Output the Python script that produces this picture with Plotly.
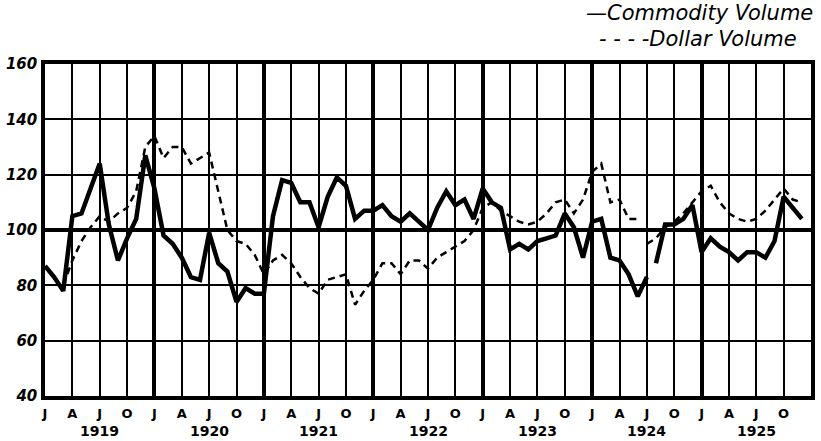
import plotly.graph_objects as go

# Monthly index values, January 1919 through December 1925
years = [1919, 1920, 1921, 1922, 1923, 1924, 1925]
quarter_letters = ["J", "A", "J", "O"]
y_ticks = [40, 60, 80, 100, 120, 140, 160]

commodity_volume = [
    87, 83, 78, 105, 106, 115, 124, 102, 89, 97, 104, 127,    # 1919
    115, 98, 95, 90, 83, 82, 99, 88, 85, 74, 79, 77,          # 1920
    77, 105, 118, 117, 110, 110, 101, 112, 119, 116, 104, 107,  # 1921
    107, 109, 105, 103, 106, 103, 100, 108, 114, 109, 111, 104,  # 1922
    115, 110, 108, 93, 95, 93, 96, 97, 98, 106, 101, 90,      # 1923
    103, 104, 90, 89, 84, 76, 83, 88, 102, 102, 104, 109,     # 1924
    92, 97, 94, 92, 89, 92, 92, 90, 96, 112, 108, 104,        # 1925
]

dollar_volume = [
    None, None, 80, 89, 96, 101, 105, 103, 106, 108, 114, 130,  # 1919
    134, 126, 130, 130, 124, 126, 128, 114, 100, 96, 95, 91,    # 1920
    84, 89, 91, 88, 83, 79, 77, 82, 83, 84, 73, 78,            # 1921
    82, 88, 88, 84, 89, 89, 86, 90, 92, 94, 96, 100,           # 1922
    108, 110, 107, 105, 103, 102, 103, 106, 110, 111, 106, 111,  # 1923
    121, 124, 110, 111, 104, 104, 95, 97, 101, 103, 106, 110,   # 1924
    114, 116, 110, 106, 104, 103, 104, 107, 111, 115, 111, 110,  # 1925
]

# month after which each series has a break in the drawn line
commodity_break = 66
dollar_break = 65

months = list(range(len(commodity_volume)))


def with_break(xs, ys, after):
    """Insert a gap into a series right after the given month."""
    bx, by = [], []
    for x, y in zip(xs, ys):
        bx.append(x)
        by.append(y)
        if x == after:
            bx.append(x + 0.5)
            by.append(None)
    return bx, by


cx, cy = with_break(months, commodity_volume, commodity_break)
dx, dy = with_break(months, dollar_volume, dollar_break)

n_quarters = len(years) * 4
quarter_vals = [3 * i for i in range(n_quarters)]
quarter_text = [quarter_letters[i % 4] for i in range(n_quarters)]
year_vals = [12 * i for i in range(1, len(years))]

fig = go.Figure()
fig.add_trace(go.Scatter(
    x=cx, y=cy, mode="lines", name="Commodity Volume",
    line=dict(color="black", width=4.5), connectgaps=False,
))
fig.add_trace(go.Scatter(
    x=dx, y=dy, mode="lines", name="Dollar Volume",
    line=dict(color="black", width=2.5, dash="7px,5px"), connectgaps=False,
))

axis_common = dict(
    showline=True, linecolor="black", linewidth=3.5, mirror=True,
    showgrid=True, gridcolor="black", gridwidth=2, zeroline=False, ticks="",
)

fig.update_layout(
    width=821, height=441,
    margin=dict(l=43, r=6, t=64, b=45),
    paper_bgcolor="white", plot_bgcolor="white",
    showlegend=False,
    xaxis=dict(
        range=[0, 12 * len(years)], tickmode="array",
        tickvals=quarter_vals, ticktext=quarter_text,
        tickfont=dict(family="DejaVu Sans", size=13, color="black", weight="bold"),
        ticklabelstandoff=3,
        **axis_common,
    ),
    yaxis=dict(
        range=[y_ticks[0], y_ticks[-1]], tickmode="array", tickvals=y_ticks,
        tickfont=dict(family="DejaVu Sans", size=15, color="black",
                      weight="bold", style="italic"),
        ticklabelstandoff=1,
        **axis_common,
    ),
    # heavier rules at each new year and at the 100 base line
    xaxis2=dict(
        overlaying="x", range=[0, 12 * len(years)], tickmode="array",
        tickvals=year_vals, showticklabels=False, showgrid=True,
        gridcolor="black", gridwidth=3.5, zeroline=False, showline=False, ticks="",
    ),
    yaxis2=dict(
        overlaying="y", range=[y_ticks[0], y_ticks[-1]], tickmode="array",
        tickvals=[100], showticklabels=False, showgrid=True,
        gridcolor="black", gridwidth=3.5, zeroline=False, showline=False, ticks="",
    ),
)

# keep the overlay axes active
fig.add_trace(go.Scatter(x=[None], y=[None], xaxis="x2", yaxis="y2",
                         mode="lines", hoverinfo="skip"))

for i, yr in enumerate(years):
    fig.add_annotation(
        x=12 * i + 6, xref="x", y=0, yref="paper", yshift=-35,
        text=str(yr), showarrow=False, xanchor="center", yanchor="middle",
        font=dict(family="DejaVu Sans", size=14, color="black", weight="bold"),
    )

legend_font = dict(family="DejaVu Sans", size=21, color="black", style="italic")
fig.add_annotation(
    x=1, xref="paper", y=1, yref="paper", xshift=4, yshift=51,
    text="\u2014Commodity Volume", showarrow=False,
    xanchor="right", yanchor="middle", font=legend_font,
)
fig.add_annotation(
    x=1, xref="paper", y=1, yref="paper", xshift=-12, yshift=25,
    text="- - - -Dollar Volume", showarrow=False,
    xanchor="right", yanchor="middle", font=legend_font,
)

fig.write_html("out.html")
